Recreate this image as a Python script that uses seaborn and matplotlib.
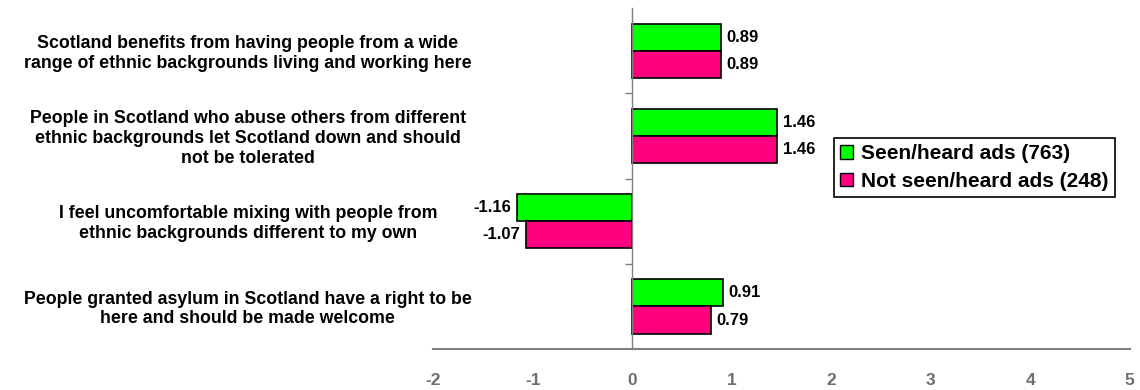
import matplotlib
matplotlib.use("Agg")
import matplotlib.pyplot as plt
import seaborn as sns
import pandas as pd
from matplotlib.ticker import FixedLocator
from matplotlib.patches import Patch

statements = [
    "Scotland benefits from having people from a wide\nrange of ethnic backgrounds living and working here",
    "People in Scotland who abuse others from different\nethnic backgrounds let Scotland down and should\nnot be tolerated",
    "I feel uncomfortable mixing with people from\nethnic backgrounds different to my own",
    "People granted asylum in Scotland have a right to be\nhere and should be made welcome",
]
groups = ["Seen/heard ads (763)", "Not seen/heard ads (248)"]
seen = [0.89, 1.46, -1.16, 0.91]
not_seen = [0.89, 1.46, -1.07, 0.79]
x_ticks = [-2, -1, 0, 1, 2, 3, 4, 5]

colors = {groups[0]: "#00FF00", groups[1]: "#FF0080"}

df = pd.DataFrame({
    "statement": statements * 2,
    "group": [groups[0]] * 4 + [groups[1]] * 4,
    "score": seen + not_seen,
})

sns.set_style("white")
plt.rcParams["font.family"] = ["Liberation Sans", "DejaVu Sans"]
plt.rcParams["font.weight"] = "bold"
plt.rcParams["text.color"] = "black"
plt.rcParams["axes.unicode_minus"] = False

fig = plt.figure(figsize=(11.4, 3.9), dpi=100)
ax = fig.add_axes([0.38, 0.105, 0.611, 0.874])

sns.barplot(data=df, y="statement", x="score", hue="group", order=statements,
            hue_order=groups, palette=colors, saturation=1, orient="h",
            width=0.64, edgecolor="black", linewidth=1.2, ax=ax, legend=False)

for cont in ax.containers:
    ax.bar_label(cont, fmt="%.2f", padding=4, fontsize=12, fontweight="bold",
                 color="black")

ax.set_xlim(-2, 5)
ax.set_ylim(3.5, -0.5)
ax.set_xlabel("")
ax.set_ylabel("")

# x axis: grey line with ticks below
ax.xaxis.set_major_locator(FixedLocator(x_ticks))
ax.tick_params(axis="x", direction="out", length=6, width=1.2, color="#808080",
               labelcolor="#6e6e6e", labelsize=12.5, pad=11)
for lab in ax.get_xticklabels():
    lab.set_fontweight("bold")
    lab.set_fontstretch("condensed")

# y axis drawn at zero, with ticks marking the category boundaries
ax.spines["left"].set_position(("data", 0))
ax.spines["left"].set_color("#808080")
ax.spines["left"].set_linewidth(1.0)
ax.spines["bottom"].set_color("#808080")
ax.spines["bottom"].set_linewidth(1.5)
ax.spines["top"].set_visible(False)
ax.spines["right"].set_visible(False)
ax.yaxis.set_major_locator(FixedLocator([0.5, 1.5, 2.5]))
ax.set_yticklabels([])
ax.tick_params(axis="y", direction="out", length=5, width=1, color="#808080", left=True)

# statement labels, centred to the left of the plot
for i, s in enumerate(statements):
    ax.text(-0.266, i + 0.03, s, transform=ax.get_yaxis_transform(), ha="center",
            va="center", multialignment="center", fontsize=12.8,
            fontweight="bold", linespacing=1.2, color="black")

handles = [Patch(facecolor=colors[g], edgecolor="black", linewidth=1) for g in groups]
leg = fig.legend(handles, groups, loc="upper left", bbox_to_anchor=(0.7315, 0.646),
                 frameon=True, fancybox=False, edgecolor="black", framealpha=1,
                 prop={"size": 15, "weight": "bold"}, handlelength=0.6,
                 handleheight=0.6, handletextpad=0.4, borderpad=0.3,
                 labelspacing=0.42, borderaxespad=0)
leg.get_frame().set_linewidth(1.2)

fig.savefig("out.png", dpi=100)
